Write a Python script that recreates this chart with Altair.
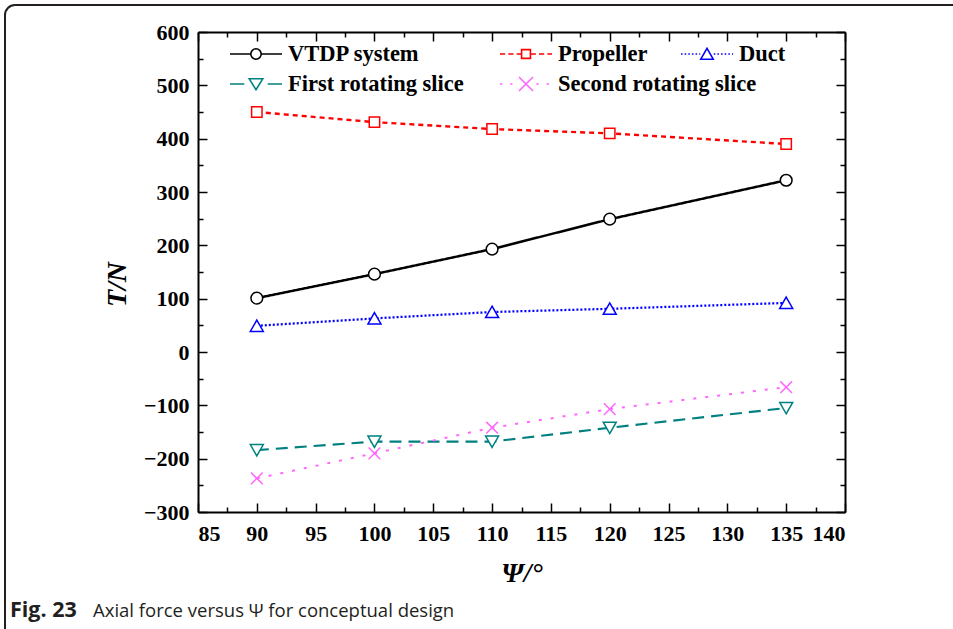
import altair as alt
import pandas as pd

# ---------------- data ----------------
psi = [90, 100, 110, 120, 135]
series_names = ["VTDP system", "Propeller", "Duct", "First rotating slice", "Second rotating slice"]
vtdp = [101, 146, 193, 249, 322]
propeller = [450, 431, 418, 410, 390]
duct = [49, 63, 75, 81, 92]
first_slice = [-184, -168, -168, -142, -105]
second_slice = [-237, -190, -142, -107, -66]

x_tick_values = [85, 87.5, 90, 92.5, 95, 97.5, 100, 102.5, 105, 107.5, 110, 112.5, 115,
                 117.5, 120, 122.5, 125, 127.5, 130, 132.5, 135, 137.5, 140]
y_tick_values = [-300, -250, -200, -150, -100, -50, 0, 50, 100, 150, 200, 250, 300,
                 350, 400, 450, 500, 550, 600]

caption_bold = "Fig. 23"
caption_rest = "Axial force versus \u03a8 for conceptual design"

# ---------------- styles ----------------
colors = ["#000000", "#FF0000", "#0000FF", "#008080", "#FF66FF"]
dashes = [[1, 0], [5, 4], [2, 2], [12, 7], [3, 9]]
widths = [2.5, 2, 2, 2.5, 2.5]
marker_paths = [
    "M0.9,0 A0.9,0.9 0 1,1 -0.9,0 A0.9,0.9 0 1,1 0.9,0 Z",
    "M-0.8,-0.8 L0.8,-0.8 L0.8,0.8 L-0.8,0.8 Z",
    "M0,-0.9 L1,0.85 L-1,0.85 Z",
    "M0,0.9 L1,-0.85 L-1,-0.85 Z",
    "M-0.9,-0.9 L0.9,0.9 M-0.9,0.9 L0.9,-0.9",
]


def seg_line(a, b, dash, gap):
    parts = []
    x = a
    while x < b - 1e-9:
        x2 = min(x + dash, b)
        parts.append("M%.3f,0 L%.3f,0" % (x, x2))
        x = x2 + gap
    return " ".join(parts)


# legend symbols (unit = 26 px)
leg_sym = {
    "VTDP system": "M-1,0 L-0.21,0 M0.21,0 L1,0 "
                   "M0.2,0 A0.2,0.2 0 1,1 -0.2,0 A0.2,0.2 0 1,1 0.2,0 Z",
    "Propeller": seg_line(-1, -0.18, 0.2, 0.12) + " " + seg_line(0.18, 1, 0.2, 0.12)
                 + " M-0.17,-0.17 L0.17,-0.17 L0.17,0.17 L-0.17,0.17 Z",
    "Duct": seg_line(-1, -0.26, 0.06, 0.08) + " " + seg_line(0.26, 1, 0.06, 0.08)
            + " M0,-0.22 L0.24,0.2 L-0.24,0.2 Z",
    "First rotating slice": "M-1,0 L-0.45,0 M0.45,0 L1,0 M-0.26,-0.2 L0.26,-0.2 L0,0.22 Z",
    "Second rotating slice": seg_line(-1, -0.32, 0.09, 0.3) + " " + seg_line(0.4, 1, 0.09, 0.3)
                             + " M-0.27,-0.27 L0.27,0.27 M-0.27,0.27 L0.27,-0.27",
}

# legend entry placement (pixels from plot's top-left corner)
legend_pos = {
    "VTDP system": (31, -5),
    "Propeller": (301, -5),
    "Duct": (482, -5),
    "First rotating slice": (31, 25),
    "Second rotating slice": (301, 25),
}

values_by_series = [vtdp, propeller, duct, first_slice, second_slice]
rows = []
for name, vals in zip(series_names, values_by_series):
    for p, v in zip(psi, vals):
        rows.append({"psi": p, "T": v, "series": name})
df = pd.DataFrame(rows)

serif = "Liberation Serif"

x_scale = alt.Scale(domain=[85, 140], nice=False, zero=False)
y_scale = alt.Scale(domain=[-300, 600], nice=False, zero=False)

tick_x = {"condition": {"test": "datum.value % 5 === 0", "value": -9}, "value": -5}
tick_y = {"condition": {"test": "datum.value % 100 === 0", "value": -9}, "value": -5}

x_axis_bottom = alt.Axis(orient="bottom", values=x_tick_values, tickSize=tick_x,
                         labelExpr="datum.value % 5 === 0 ? datum.label : ''",
                         labelPadding=20, title="\u03a8/\u00b0", titlePadding=15)
y_axis_left = alt.Axis(orient="left", values=y_tick_values, tickSize=tick_y,
                       labelExpr="datum.value % 100 === 0 ? datum.label : ''",
                       labelPadding=18, title="T/N", titlePadding=12, titleY=252)
x_axis_top = alt.Axis(orient="top", values=x_tick_values, tickSize=tick_x,
                      labels=False, title=None)
y_axis_right = alt.Axis(orient="right", values=y_tick_values, tickSize=tick_y,
                        labels=False, title=None)

lines = alt.Chart(df).mark_line(strokeCap="butt").encode(
    x=alt.X("psi:Q", scale=x_scale, axis=x_axis_bottom),
    y=alt.Y("T:Q", scale=y_scale, axis=y_axis_left),
    color=alt.Color("series:N", scale=alt.Scale(domain=series_names, range=colors), legend=None),
    strokeDash=alt.StrokeDash("series:N", scale=alt.Scale(domain=series_names, range=dashes), legend=None),
    strokeWidth=alt.StrokeWidth("series:N", scale=alt.Scale(domain=series_names, range=widths), legend=None),
    detail="series:N",
)

points = alt.Chart(df).mark_point(filled=False, fill="white", opacity=1, strokeWidth=1.5, size=169).encode(
    x=alt.X("psi:Q", scale=x_scale, axis=x_axis_top),
    y=alt.Y("T:Q", scale=y_scale, axis=y_axis_right),
    color=alt.Color("series:N", scale=alt.Scale(domain=series_names, range=colors), legend=None),
    shape=alt.Shape("series:N", scale=alt.Scale(domain=series_names, range=marker_paths), legend=None),
)

color_of = dict(zip(series_names, colors))


def legend_layer(name, field):
    lx, ly = legend_pos[name]
    ldf = pd.DataFrame({field: [name]})
    leg = alt.Legend(orient="none", legendX=lx, legendY=ly, title=None,
                     symbolSize=2704, symbolStrokeWidth=1.6,
                     labelFont=serif, labelFontWeight="bold", labelFontSize=22.5,
                     labelColor="black", labelOffset=5, labelLimit=400,
                     symbolFillColor="transparent")
    return alt.Chart(ldf).transform_filter("false").mark_point(filled=False, opacity=1, strokeWidth=1.6).encode(
        color=alt.Color(field + ":N", scale=alt.Scale(domain=[name], range=[color_of[name]]), legend=leg),
        shape=alt.Shape(field + ":N", scale=alt.Scale(domain=[name], range=[leg_sym[name]]), legend=leg),
    )


legend_layers = [legend_layer(n, "entry%d" % i) for i, n in enumerate(series_names)]

border = alt.Chart(pd.DataFrame({"k": [0]})).mark_rect(
    fill="transparent", stroke="#231F20", strokeWidth=2, cornerRadius=10
).encode(x=alt.value(-193), x2=alt.value(800), y=alt.value(-27), y2=alt.value(640))

cap1 = alt.Chart(pd.DataFrame({"t": [caption_bold]})).mark_text(
    align="left", baseline="middle", font="Open Sans", fontSize=21.5, fontWeight="bold", color="#231F20"
).encode(x=alt.value(-188), y=alt.value(579), text="t:N")
cap2 = alt.Chart(pd.DataFrame({"t": [caption_rest]})).mark_text(
    align="left", baseline="middle", font="Open Sans", fontSize=18.5, color="#231F20"
).encode(x=alt.value(-105), y=alt.value(579), text="t:N")

chart = alt.layer(border, lines, points, *legend_layers, cap1, cap2).resolve_scale(
    color="independent", shape="independent", strokeDash="independent", strokeWidth="independent"
).resolve_axis(x="independent", y="independent").properties(
    width=647, height=480,
    autosize=alt.AutoSizeParams(type="none"),
    padding={"left": 198, "top": 32, "right": 108, "bottom": 117},
    background="white",
).configure_view(stroke=None).configure_axis(
    grid=False, domainColor="black", domainWidth=2, tickColor="black", tickWidth=1.5,
    labelFont=serif, labelFontWeight="bold", labelFontSize=22, labelColor="black",
    titleFont=serif, titleFontSize=28, titleFontWeight="bold", titleFontStyle="italic", titleColor="black",
)

chart.save("out.html", embed_options={"renderer": "svg", "actions": False})
